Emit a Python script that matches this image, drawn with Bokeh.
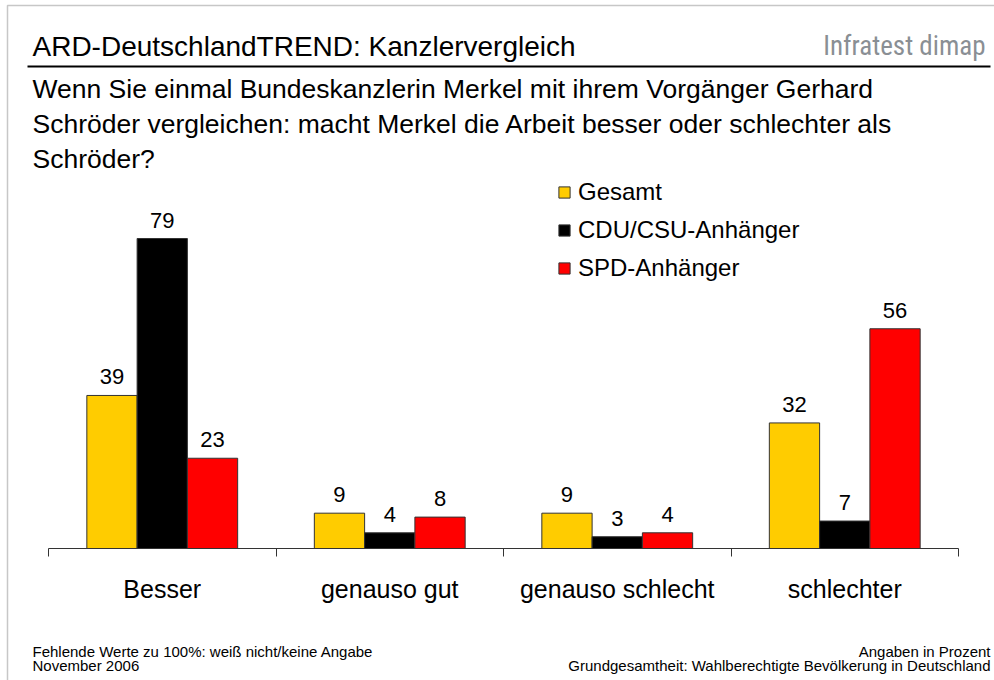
from bokeh.plotting import figure
from bokeh.models import (ColumnDataSource, LinearAxis, FixedTicker, Label, Range1d,
                          Legend, LegendItem, BoxAnnotation)
from bokeh.core.properties import value
from bokeh.embed import file_html
from bokeh.resources import INLINE

# ---- data ----
categories = ["Besser", "genauso gut", "genauso schlecht", "schlechter"]
series_names = ["Gesamt", "CDU/CSU-Anhänger", "SPD-Anhänger"]
gesamt = [39, 9, 9, 32]
cdu_csu = [79, 4, 3, 7]
spd = [23, 8, 4, 56]
colors = ["#FFCC00", "#000000", "#FF0000"]

title = "ARD-DeutschlandTREND: Kanzlervergleich"
question = ["Wenn Sie einmal Bundeskanzlerin Merkel mit ihrem Vorgänger Gerhard",
            "Schröder vergleichen: macht Merkel die Arbeit besser oder schlechter als",
            "Schröder?"]
foot_left = ["Fehlende Werte zu 100%: weiß nicht/keine Angabe", "November 2006"]
foot_right = ["Angaben in Prozent", "Grundgesamtheit: Wahlberechtigte Bevölkerung in Deutschland"]

FONT = "Liberation Sans"
NARROW = "Liberation Sans Narrow, Roboto Condensed, DejaVu Sans Condensed, sans-serif"

W, H = 994, 680
# plot area layout (canvas pixels)
AX_LEFT, AX_RIGHT, AX_BASE = 48, 958, 548
PX_PER_UNIT = 3.924
n = len(categories)
px_per_cat = (AX_RIGHT - AX_LEFT) / n

x_range = Range1d(-AX_LEFT / px_per_cat, n + (W - AX_RIGHT) / px_per_cat)
y_range = Range1d(-(H - AX_BASE) / PX_PER_UNIT, AX_BASE / PX_PER_UNIT)

p = figure(width=W, height=H, output_backend="svg", toolbar_location=None,
           x_axis_type=None, y_axis_type=None, x_range=x_range, y_range=y_range,
           min_border=0, min_border_left=0, min_border_right=0,
           min_border_top=0, min_border_bottom=0)
p.outline_line_color = None
p.background_fill_color = "white"
p.border_fill_color = "white"


def sx(X):
    return X


def sy(Y):
    return H - Y


bar_w = 0.221
offsets = [-bar_w, 0.0, bar_w]
all_series = [gesamt, cdu_csu, spd]
renderers = []
lab_x, lab_y, lab_t = [], [], []
for k, (vals, col) in enumerate(zip(all_series, colors)):
    xs = [i + 0.5 + offsets[k] for i in range(n)]
    src = ColumnDataSource(dict(x=xs, top=vals))
    r = p.vbar(x="x", top="top", width=bar_w, bottom=0, source=src,
               fill_color=col, line_color="#333333", line_width=1)
    renderers.append(r)
    lab_x += xs
    lab_y += vals
    lab_t += [str(v) for v in vals]

lsrc = ColumnDataSource(dict(x=lab_x, y=lab_y, t=lab_t))
p.text(x="x", y="y", text="t", source=lsrc, text_align="center", text_baseline="bottom",
       y_offset=-11, text_font_size="22px", text_font=value(FONT), text_color="black")

# category axis, fixed at y = 0
ax = LinearAxis(ticker=FixedTicker(ticks=[i + 0.5 for i in range(n)],
                                   minor_ticks=list(range(n + 1))))
ax.fixed_location = 0
ax.bounds = (0, n)
ax.major_label_overrides = {i + 0.5: c for i, c in enumerate(categories)}
ax.axis_line_color = "#333333"
ax.axis_line_width = 1
ax.major_tick_line_color = None
ax.major_tick_in = 0
ax.major_tick_out = 0
ax.minor_tick_line_color = "#333333"
ax.minor_tick_in = 0
ax.minor_tick_out = 8
ax.major_label_standoff = 18
ax.major_label_text_font_size = "25px"
ax.major_label_text_font = FONT
ax.major_label_text_color = "black"
p.add_layout(ax, "below")

# legend
legend = Legend(items=[LegendItem(label=s, renderers=[r]) for s, r in zip(series_names, renderers)],
                location=(sx(557), sy(282)), orientation="vertical",
                border_line_color=None, background_fill_alpha=0, padding=0, margin=0,
                spacing=10, glyph_width=14, glyph_height=14, label_height=28, label_standoff=7,
                label_text_font_size="24px", label_text_font=FONT, label_text_color="black")
p.add_layout(legend)

# header texts
p.add_layout(Label(x=sx(32), y=sy(46), x_units="screen", y_units="screen", text=title,
                   text_font_size="28px", text_font=FONT, text_baseline="middle",
                   text_color="black"))
p.add_layout(Label(x=sx(985), y=sy(45), x_units="screen", y_units="screen", text="Infratest dimap",
                   text_font_size="27px", text_font=NARROW, text_baseline="middle",
                   text_align="right", text_color="#8a8f94"))
for j, line in enumerate(question):
    p.add_layout(Label(x=sx(32), y=sy(88 + 35 * j), x_units="screen", y_units="screen", text=line,
                       text_font_size="26.5px", text_font=FONT, text_baseline="middle",
                       text_color="black"))

# footer texts
for j, line in enumerate(foot_left):
    p.add_layout(Label(x=sx(32), y=sy(651 + 14 * j), x_units="screen", y_units="screen", text=line,
                       text_font_size="15px", text_font=FONT, text_baseline="middle",
                       text_color="black"))
for j, line in enumerate(foot_right):
    p.add_layout(Label(x=sx(990), y=sy(651 + 14 * j), x_units="screen", y_units="screen", text=line,
                       text_font_size="15px", text_font=FONT, text_baseline="middle",
                       text_align="right", text_color="black"))

# header rule
p.add_layout(BoxAnnotation(left=sx(27), right=sx(990), top=sy(65), bottom=sy(67),
                           left_units="screen", right_units="screen",
                           top_units="screen", bottom_units="screen",
                           fill_color="black", fill_alpha=1, line_color=None))
# slide border (left / top)
p.add_layout(BoxAnnotation(left=sx(7), right=sx(2000), top=sy(5), bottom=sy(2000),
                           left_units="screen", right_units="screen",
                           top_units="screen", bottom_units="screen",
                           fill_alpha=0, line_color="#444444", line_width=1.5))

open("out.html", "w").write(file_html(p, INLINE))
